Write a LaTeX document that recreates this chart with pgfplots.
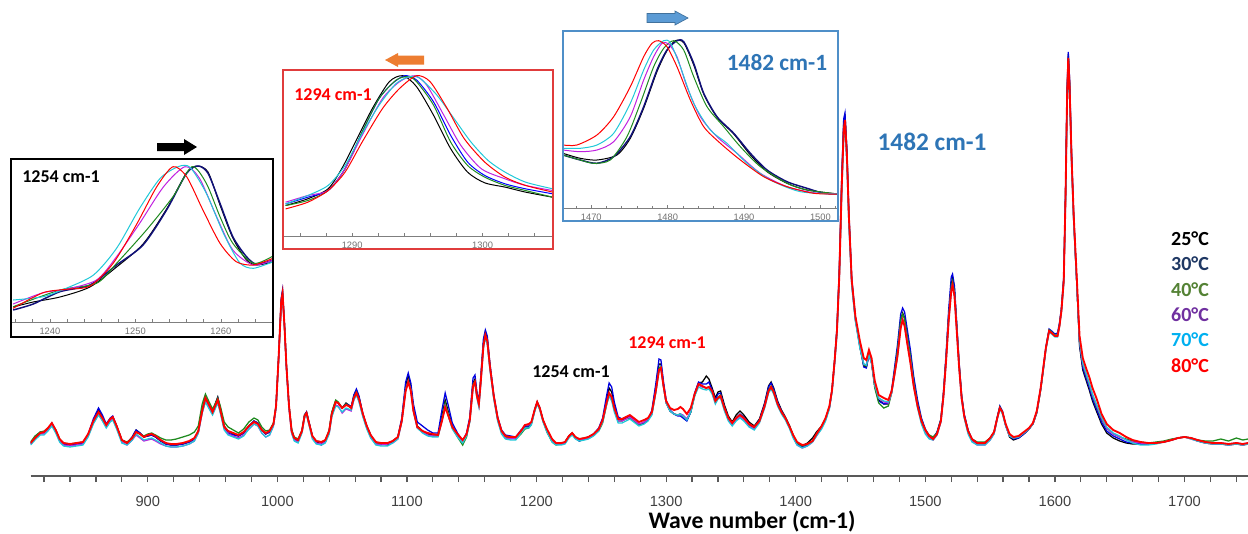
\documentclass[border=0pt]{standalone}
\usepackage{fontspec}
\setmainfont{Carlito}
\newfontfamily\arial{Liberation Sans}
\usepackage{pgfplots}
\usepackage{pgfplotstable}
\pgfplotsset{compat=1.18}

\definecolor{axgray}{HTML}{7F7F7F}
\definecolor{tickgray}{HTML}{404040}
\definecolor{cA}{HTML}{000000}
\definecolor{cB}{HTML}{0000E0}
\definecolor{cBn}{HTML}{10107A}
\definecolor{cC}{HTML}{1E8A1E}
\definecolor{cD}{HTML}{C020E0}
\definecolor{cE}{HTML}{20C8D8}
\definecolor{cF}{HTML}{FF0000}
\definecolor{lg30}{HTML}{1F3864}
\definecolor{lg40}{HTML}{548235}
\definecolor{lg60}{HTML}{7030A0}
\definecolor{lg70}{HTML}{00B0F0}
\definecolor{lblue}{HTML}{2E75B6}
\definecolor{boxred}{HTML}{E03C3C}
\definecolor{boxblue}{HTML}{4F8FC8}
\definecolor{arrorange}{HTML}{ED7D31}
\definecolor{arrblue}{HTML}{5B9BD5}
\definecolor{arrblueline}{HTML}{41719C}

\pgfplotstableread{
wn t25 t30 t40 t60 t70 t80
809.6 33 32 34 32 31 33
813 39 38 40 37 36 38
817 44 43 44 42 41 43
820 44 43 45 42 41 44
823 47 47 48 46 45 48
826 52 53 51 51 50 53
829 45 46 46 44 43 46
832 36 36 37 35 34 37
835 32 32 33 31 30 33
840 31 31 32 30 29 32
845 32 32 33 31 30 33
850 33 33 34 32 31 34
854 41 42 41 40 39 42
858 55 57 54 53 52 55
862 66 68 63 62 61 64
865 59 61 57 56 55 58
868 51 52 50 49 48 51
871 57 58 56 55 54 57
873 59 60 58 57 56 59
876 50 50 50 48 47 50
880 36 36 36 34 33 36
884 33 33 34 31 31 33
888 39 39 38 36 36 38
891 46 46 44 41 42 44
894 43 43 42 38 39 42
897 39 39 40 35 36 39
900 40 40 42 36 37 41
903 41 41 43 37 38 42
906 39 39 41 35 36 40
910 35 35 38 32 33 36
914 32 32 36 30 30 33
918 31 31 36 29 29 32
922 31 31 37 29 29 32
927 32 32 39 30 30 33
932 34 34 41 32 32 35
936 37 37 44 35 35 38
939 45 44 50 43 43 45
942 66 67 72 63 63 65
944.5 79 78 82 75 74 78
947 72 72 75 69 68 72
950 64 64 67 62 61 64
952 72 71 72 68 67 70
954 79 78 78 74 73 76
956 68 67 70 64 63 66
959 50 48 54 47 46 49
962 45 43 49 42 41 45
966 42 41 46 40 39 43
970 40 40 43 38 37 41
974 43 43 47 41 40 44
978 50 50 54 47 47 50
982 55 55 58 52 52 54
985 53 53 56 50 50 52
988 46 46 49 43 43 46
991 42 42 45 39 39 43
994 44 44 46 41 41 45
997 52 52 53 50 50 52
999 70 70 70 68 68 70
1001 119 120 118 117 117 119
1003 176 178 174 172 171 175
1004 184 186 182 180 179 183
1005.5 151 152 150 148 148 150
1007 110 110 109 108 108 110
1009 70 70 70 68 68 70
1011 46 45 47 43 43 45
1013 38 37 39 36 35 38
1016 36 35 37 34 33 36
1019 45 45 46 44 43 45
1021 61 61 61 59 58 60
1022.5 64 64 63 62 61 63
1024 56 56 55 54 53 55
1027 40 40 40 38 37 40
1030 34 33 35 33 32 35
1034 32 31 34 32 31 34
1037 35 34 36 34 33 36
1040 45 45 46 43 42 45
1042 63 62 64 60 59 62
1045 75 74 76 71 70 74
1047 73 73 74 70 69 73
1050 68 68 68 63 64 68
1053 73 72 72 67 68 71
1055 71 71 70 66 67 70
1057 69 69 68 65 66 68
1059 80 81 79 76 76 78
1061 86 87 84 82 81 83
1063 79 80 77 75 74 77
1066 62 62 61 60 59 62
1069 50 50 49 48 47 50
1072 41 41 40 39 38 41
1076 33 33 33 32 31 34
1080 32 32 32 31 30 33
1085 31 32 32 32 30 33
1089 34 35 35 33 33 35
1093 39 39 39 37 37 39
1096 56 58 55 54 54 55
1099 90 94 87 86 86 85
1101 100 103 96 95 94 94
1103 90 93 87 86 86 85
1105 68 72 66 65 65 65
1108 50 54 49 48 48 49
1112 45 50 44 44 43 45
1116 42 46 41 41 40 43
1120 41 43 40 40 39 42
1124 41 43 40 40 39 41
1127 60 66 57 55 55 55
1129.5 76 83 73 70 70 69
1132 64 70 62 60 60 60
1135 50 53 48 48 47 49
1139 41 43 39 40 39 42
1143 34 35 31 34 33 36
1146 41 43 39 41 40 42
1148.5 57 59 55 55 54 56
1151 93 98 92 90 89 90
1152.5 97 101 95 93 92 94
1154 82 84 80 79 78 80
1155.5 73 74 72 70 69 72
1157 97 100 96 93 93 95
1159 133 137 131 129 128 130
1160.5 144 146 141 139 138 141
1162 137 140 134 133 132 135
1164 111 113 109 108 107 110
1167 80 81 79 78 77 80
1170 58 59 57 56 55 58
1173 45 46 44 43 42 45
1176 40 41 39 38 37 40
1180 39 40 38 37 36 39
1184 38 39 37 38 36 39
1188 44 46 42 45 43 45
1191 50 49 47 51 48 51
1194 50 49 48 51 48 52
1196 53 53 52 53 51 54
1198.5 66 66 65 65 64 66
1200.5 74 74 73 73 72 74
1202.5 68 68 67 67 66 68
1205 56 56 55 55 54 56
1208 46 46 44 45 44 47
1212 36 36 34 35 34 37
1215 32 32 31 32 31 33
1219 32 32 32 32 31 33
1222 34 34 34 33 32 34
1225 40 40 40 39 38 40
1227.5 43 43 43 42 41 43
1230 38 38 39 38 37 39
1233 35 35 37 36 35 37
1237 37 37 38 37 36 38
1240 39 39 39 38 37 39
1244 42 42 41 41 40 42
1248 47 48 45 46 45 47
1251 56 58 53 55 54 56
1254 75 80 71 72 71 73
1256 88 93 81 82 80 83
1258 84 89 78 77 75 79
1260 70 74 67 66 64 68
1263 57 59 55 55 53 57
1266 56 57 55 55 53 57
1269 58 59 57 57 55 59
1272 59 60 58 59 57 61
1275 56 56 55 56 54 58
1279 51 51 51 52 50 54
1283 53 53 54 54 52 56
1286 56 56 57 57 55 58
1289 64 66 62 62 61 64
1292 88 92 84 84 83 85
1294.5 112 117 108 106 105 106
1296 112 116 109 108 107 108
1298 91 94 89 89 89 90
1300 74 76 73 73 73 75
1303 65 66 65 65 65 68
1306 62 62 62 62 62 66
1309 61 60 61 61 61 67
1311 62 60 62 62 62 69
1313 60 58 60 61 60 67
1316 56 55 57 57 56 62
1319 64 64 64 65 64 68
1322 82 83 80 81 80 82
1325 93 94 91 91 89 92
1328 94 92 89 89 87 90
1331 100 92 88 88 86 88
1333 97 94 89 89 87 89
1335.5 88 86 84 83 82 85
1338 78 76 74 73 72 75
1340 84 82 79 78 77 78
1342 85 83 81 79 78 80
1345 71 69 68 66 65 68
1348 60 58 57 56 55 58
1351 54 52 52 51 50 53
1354 61 58 58 56 55 58
1357 65 62 61 59 58 61
1360 61 59 58 56 55 58
1364 54 52 51 50 49 52
1368 50 49 48 47 46 49
1372 57 56 55 54 53 55
1376 73 72 70 69 68 70
1379 90 89 86 84 83 85
1381 94 93 90 88 87 89
1383 88 87 85 83 82 84
1386 75 74 72 71 70 72
1389 66 65 64 63 62 64
1392 59 58 58 57 56 58
1395 51 50 50 49 48 50
1398 41 40 41 39 38 41
1401 33 32 33 31 31 34
1405 30 29 30 28 28 31
1409 33 31 32 30 30 32
1413 38 35 35 34 34 35
1416 44 42 42 40 40 42
1420 50 49 49 48 47 50
1423 57 57 57 56 55 58
1426 69 69 69 68 67 70
1428 86 86 86 85 84 86
1430 115 116 115 113 112 115
1431.8 146 148 145 143 141 145
1433.6 203 206 200 198 196 200
1435.5 295 299 290 287 283 290
1437 353 357 346 342 338 345
1438 362 363 356 352 346 356
1439.5 324 326 319 315 310 320
1441 262 264 258 255 251 260
1443.2 196 198 194 192 190 196
1446 158 159 157 156 155 160
1449.5 130 130 129 129 128 135
1452.5 110 109 111 112 112 118
1454.5 109 108 110 111 111 116
1456.5 122 121 122 121 121 126
1458.5 114 114 113 113 113 118
1461 90 90 88 91 91 95
1464 76 75 73 78 78 81
1468 72 72 68 74 75 78
1471.5 72 73 70 73 74 76
1474 84 86 83 83 83 85
1476 102 106 102 99 99 100
1478.5 125 131 126 120 119 120
1481 156 162 156 150 149 148
1482.5 163 168 162 157 156 156
1484 158 164 157 151 150 150
1486 141 147 140 135 134 133
1488.5 121 126 120 115 114 113
1491 96 100 95 91 90 90
1494 73 76 72 69 68 70
1497 56 58 56 53 52 55
1500 46 47 46 43 42 46
1503 40 40 41 38 37 40
1506 38 38 39 36 36 37
1509 43 44 43 41 41 42
1512 56 57 56 54 54 55
1514 82 84 81 79 79 80
1516 118 122 117 114 114 115
1518 160 166 159 156 155 155
1520 192 199 190 186 185 185
1521 198 202 195 192 190 191
1522.5 186 190 184 181 180 180
1524 155 158 154 151 150 150
1526 113 115 112 110 109 110
1528 80 81 79 77 77 78
1530 61 62 60 59 58 60
1533 45 46 45 43 42 45
1536 36 37 37 35 34 37
1540 32 33 34 31 31 33
1546 32 33 34 31 31 33
1550 37 38 38 36 36 38
1553 43 44 44 42 42 44
1555.5 58 59 58 57 57 58
1557.5 69 70 69 68 67 68
1559.5 64 65 64 63 62 64
1562 51 51 51 50 50 52
1565 39 40 40 40 40 42
1568 36 37 38 38 38 39
1572 38 38 39 39 39 40
1576 42 42 43 43 43 44
1580 47 47 47 47 47 48
1583 52 52 52 52 52 53
1586 63 64 64 64 64 65
1589 86 88 87 87 87 88
1591 106 108 107 107 106 108
1593 127 129 128 127 126 128
1595.5 145 147 146 145 144 145
1597.5 143 145 144 143 142 143
1600 140 142 141 140 139 140
1602 141 143 141 140 139 140
1603.5 151 153 151 150 149 150
1605 166 168 166 165 164 165
1606.8 197 199 196 194 192 195
1608.2 283 285 280 276 272 280
1609.4 385 388 380 374 368 380
1610.3 422 424 418 412 405 418
1611.3 395 398 390 385 380 390
1612.8 322 325 318 315 312 320
1614.5 258 260 256 255 253 260
1616.8 195 196 195 195 194 200
1619 130 132 134 135 135 140
1621.5 106 108 111 112 113 118
1624 96 98 101 102 103 108
1626.5 86 88 91 92 93 99
1629 75 77 80 81 82 88
1632 65 67 70 71 72 78
1636 52 54 57 58 59 62
1640 43 45 48 48 49 52
1645 38 40 42 42 43 46
1650 35 37 39 39 40 43
1655 33 34 37 36 36 39
1660 32 33 35 34 33 36
1666 32 32 34 33 31 34
1672 32 32 33 32 31 33
1678 33 33 34 33 32 33
1684 34 34 35 34 34 34
1690 36 36 37 36 36 36
1695 38 38 38 38 38 38
1700 39 39 39 39 39 39
1705 38 38 38 37 37 38
1710 35 36 36 35 35 36
1716 33 34 35 33 33 34
1722 32 33 35 32 32 33
1728 32 33 37 32 32 33
1734 31 32 35 31 31 32
1740 32 33 38 32 32 33
1745 31 32 36 31 31 32
1749 32 33 37 32 32 33
}\spec

\pgfplotsset{
  insetax/.style={
    anchor=south west, scale only axis, ymin=0,
    axis x line*=bottom, axis y line=none, ytick=\empty,
    tick align=inside, major tick length=2.5pt, minor tick length=2pt,
    x axis line style={draw=axgray, line width=0.6pt},
    every tick/.style={draw=axgray, line width=0.5pt},
    xticklabel style={font=\arial\fontsize{7}{8}\selectfont, text=axgray!90!black, yshift=-1pt},
    /pgf/number format/assume math mode=true, /pgf/number format/1000 sep={},
    clip=true, no marks,
    every axis plot/.append style={smooth, tension=0.45, line width=0.75pt},
  }
}

\begin{document}
\begin{tikzpicture}
\path[use as bounding box] (0pt,0pt) rectangle (936pt,-399.75pt);

% main spectrum
\begin{axis}[
  at={(22.95pt,-357pt)}, anchor=south west, scale only axis,
  width=913.05pt, height=357pt,
  xmin=809.6, xmax=1749, ymin=0, ymax=476,
  axis x line*=bottom, axis y line=none, ytick=\empty,
  xtick={900,1000,...,1700},
  minor xtick={820,840,...,1740},
  tick align=outside, major tick length=4.5pt, minor tick length=4.5pt,
  x axis line style={draw=axgray!70!black, line width=1.1pt},
  every tick/.style={draw=axgray!70!black, line width=0.9pt},
  xticklabel style={font=\arial\fontsize{11}{13}\selectfont, text=tickgray},
  xticklabel shift=7pt,
  /pgf/number format/assume math mode=true, /pgf/number format/1000 sep={},
  no marks, clip=true,
]
\addplot[cA, line width=0.95pt] table[x=wn,y=t25]{\spec};
\addplot[cB, line width=0.95pt] table[x=wn,y=t30]{\spec};
\addplot[cC, line width=0.95pt] table[x=wn,y=t40]{\spec};
\addplot[cD, line width=0.95pt] table[x=wn,y=t60]{\spec};
\addplot[cE, line width=0.95pt] table[x=wn,y=t70]{\spec};
\addplot[cF, line width=1.4pt] table[x=wn,y=t80]{\spec};
\end{axis}

% inset 1 : 1254
\begin{axis}[insetax, at={(8.25pt,-241.5pt)}, width=196.5pt, height=122.25pt,
  xmin=1235.45, xmax=1266.1, ymax=163,
  xtick={1240,1250,1260}, minor xtick={1236,1238,...,1266}]
\addplot[cA] coordinates {(1235.7,15) (1238.05,20) (1241.17,25) (1244.68,35) (1247.8,55) (1250.9,78) (1253.65,113) (1255.99,149) (1257.2,156) (1258.5,150) (1259.9,117) (1261.4,84) (1263,62) (1264.2,57) (1266.1,60)};
\addplot[cBn, line width=1.1pt] coordinates {(1235.7,12) (1238.05,18) (1241.17,30.3) (1244.68,37) (1247.8,57) (1250.9,77) (1253.65,112) (1255.99,148.7) (1257.35,156) (1258.5,148.7) (1259.9,118.7) (1261.4,85.3) (1263,65.3) (1264.2,57.7) (1266.1,62)};
\addplot[cC] coordinates {(1235.7,15.3) (1241.17,32) (1245.46,38.7) (1247.8,58.7) (1251.3,92) (1254.4,125.3) (1256.6,155.3) (1258.3,138.7) (1259.9,105.3) (1261.4,78.7) (1263.8,58.7) (1266.1,66)};
\addplot[cD] coordinates {(1235.7,18) (1239.2,29.3) (1241.9,32.7) (1245.46,42) (1247.8,65.3) (1250.5,98.7) (1253.3,135.3) (1255.8,155.3) (1257.5,143.7) (1259.5,105.3) (1261.4,72) (1263.8,57) (1266.1,62)};
\addplot[cE] coordinates {(1235.7,22) (1239.2,25.3) (1241.9,33.7) (1245.1,47) (1247.8,73.7) (1250.5,113.7) (1252.9,143.7) (1255,155.3) (1256.4,154.7) (1258.3,128.7) (1260.3,88.7) (1262.2,59.3) (1263.8,53.7) (1266.1,60.3)};
\addplot[cF] coordinates {(1235.7,13.7) (1239.2,29.3) (1241.9,32.7) (1244.7,36) (1247.4,58.7) (1250.1,97) (1252.5,135.3) (1254.4,155.3) (1256,145.3) (1257.9,112) (1259.9,78.7) (1261.8,60.3) (1263.8,57) (1266.1,63.7)};
\end{axis}

% inset 2 : 1294
\begin{axis}[insetax, at={(212.25pt,-177pt)}, width=202.5pt, height=124.5pt,
  xmin=1284.7, xmax=1305.4, ymax=166,
  xtick={1290,1300}, minor xtick={1286,1288,...,1304}]
\addplot[cA] coordinates {(1284.9,30.5) (1286.6,37.2) (1288.16,47.2) (1289.2,67.3) (1290.25,94) (1291.55,127.5) (1292.85,154.3) (1293.9,160.3) (1294.94,149.3) (1296.24,120.8) (1297.55,87.4) (1298.85,63.9) (1300.16,53.2) (1301.72,48.9) (1303.29,43.9) (1305.37,38.8)};
\addplot[blue] coordinates {(1284.9,32.1) (1286.6,38.8) (1288.16,45.5) (1289.46,67.3) (1290.77,104.1) (1292.07,137.5) (1293.1,152.6) (1294.03,160.3) (1294.94,156) (1296.24,134.2) (1297.55,100.7) (1298.85,74) (1300.16,60.6) (1301.72,52.2) (1303.29,47.2) (1305.37,42.2)};
\addplot[cC] coordinates {(1284.9,30.5) (1286.6,35.5) (1288.16,45.5) (1289.46,67.3) (1290.77,104.1) (1292.07,137.5) (1293.38,156) (1294.3,159.3) (1294.94,154.3) (1296.24,130.9) (1297.55,94) (1298.85,70.6) (1300.16,58.9) (1301.72,50.6) (1303.29,45.5) (1305.37,38.8)};
\addplot[cD] coordinates {(1284.9,33.8) (1286.6,40.5) (1288.16,45.5) (1289.46,67.3) (1290.77,100.7) (1292.33,137.5) (1293.64,154.3) (1294.81,160.3) (1295.72,150.9) (1297.03,120.8) (1298.33,90.7) (1299.9,67.3) (1301.72,57.2) (1303.29,50.6) (1305.37,45.5)};
\addplot[cE] coordinates {(1284.9,32.1) (1286.6,40.5) (1288.16,50.6) (1289.46,70.6) (1290.77,102.4) (1292.07,130.9) (1293.38,152.6) (1294.42,159.3) (1295.2,157.6) (1296.5,140.9) (1297.81,117.5) (1299.11,94) (1300.42,75.6) (1301.72,63.9) (1303.29,53.9) (1305.37,47.2)};
\addplot[cF] coordinates {(1284.9,27.1) (1286.6,33.8) (1288.16,45.5) (1289.46,63.9) (1290.77,94) (1292.33,127.5) (1293.64,147.6) (1294.94,160.3) (1295.98,154.3) (1297.29,127.5) (1298.59,97.4) (1300.16,74) (1301.72,58.9) (1303.29,50.6) (1305.37,43.9)};
\end{axis}

% inset 3 : 1482
\begin{axis}[insetax, at={(422.25pt,-156.225pt)}, width=206.25pt, height=132.975pt,
  xmin=1466.3, xmax=1502.3, ymax=177.3,
  xtick={1470,1480,1490,1500}, minor xtick={1468,1470,...,1502}]
\addplot[cA] coordinates {(1466.29,55) (1468.56,50) (1470.74,48.3) (1473.36,53.3) (1475.11,70) (1476.86,100) (1478.6,136.6) (1479.91,157.6) (1481,167.6) (1482.1,165.6) (1483.41,143.3) (1484.72,114.3) (1486.46,91) (1488.65,74.3) (1490.83,53.3) (1493.01,36.6) (1495.63,25) (1498.25,18.3) (1502.31,14.3)};
\addplot[cBn, line width=1.1pt] coordinates {(1466.29,53.3) (1468.56,48.3) (1470.74,45) (1472.93,51.6) (1475.11,71.6) (1476.86,101.6) (1478.6,138.3) (1479.91,158.3) (1481.22,167.6) (1482.1,166.6) (1483.41,145) (1484.72,115) (1486.46,91.6) (1488.65,75) (1490.83,55) (1493.01,38.3) (1495.63,26.6) (1498.25,20) (1500.44,15) (1502.31,14.3)};
\addplot[cC] coordinates {(1466.29,53.3) (1468.56,48.3) (1470.31,45) (1472.49,48.3) (1474.67,71.6) (1476.42,105) (1478.17,141.6) (1479.48,160) (1480.79,167.6) (1482.1,158.3) (1483.41,131.6) (1485.15,101.6) (1487.34,81.6) (1489.52,61.6) (1492.14,41.6) (1495.63,25) (1498.25,18.3) (1502.31,14.3)};
\addplot[cD] coordinates {(1466.29,58.3) (1468.56,56.6) (1470.74,58.3) (1472.93,66.6) (1475.11,91.6) (1476.86,128.3) (1478.17,151.6) (1479.26,165) (1480.13,164.3) (1481.22,151.6) (1482.53,121.6) (1484.28,91.6) (1486.46,71.6) (1489.08,55) (1492.14,35) (1495.63,21.6) (1499.13,15.6) (1502.31,14.3)};
\addplot[cE] coordinates {(1466.29,60) (1468.56,60) (1470.74,63.3) (1472.93,75) (1475.11,105) (1476.86,138.3) (1478.17,158.3) (1479.48,167.6) (1480.35,165.6) (1481.66,141.6) (1483.41,105) (1485.59,78.3) (1487.77,65) (1490.39,45) (1493.45,28.3) (1497.38,16.6) (1502.31,14.3)};
\addplot[cF] coordinates {(1466.29,63.3) (1468.12,63.3) (1470.74,73.3) (1472.93,91.6) (1475.11,121.6) (1476.86,151.6) (1477.95,165) (1478.82,167.6) (1479.91,161.6) (1481.22,141.6) (1482.97,108.3) (1484.72,81.6) (1486.9,65) (1489.52,48.3) (1492.58,31.6) (1495.63,21.6) (1499.13,15) (1502.31,14.3)};
\end{axis}

\begin{scope}[x=0.75pt, y=-0.75pt]
% inset frames
\draw[black, line width=1.2pt] (11,159) rectangle (273,337);
\draw[boxred, line width=1pt] (283,70) rectangle (553,249);
\draw[boxblue, line width=1pt] (563,31) rectangle (838,221);
% arrows
\fill[black] (157,143) -- (184,143) -- (184,139) -- (197,147) -- (184,155) -- (184,151) -- (157,151) -- cycle;
\fill[arrorange] (424,55.5) -- (398,55.5) -- (398,53) -- (385,60) -- (398,67) -- (398,64.5) -- (424,64.5) -- cycle;
\filldraw[fill=arrblue, draw=arrblueline, line width=0.5pt] (647,13.5) -- (675,13.5) -- (675,11) -- (688,18) -- (675,25) -- (675,22.5) -- (647,22.5) -- cycle;
% inset labels
\node[font=\bfseries\fontsize{13.5}{16}\selectfont, text=black] at (61,177) {1254 cm-1};
\node[font=\bfseries\fontsize{13.5}{16}\selectfont, text=cF] at (333,95) {1294 cm-1};
\node[font=\bfseries\fontsize{17.5}{20}\selectfont, text=lblue] at (777,63) {1482 cm-1};
% main labels
\node[font=\bfseries\fontsize{13.5}{16}\selectfont, text=black] at (571,372) {1254 cm-1};
\node[font=\bfseries\fontsize{13.5}{16}\selectfont, text=cF] at (667,343) {1294 cm-1};
\node[font=\bfseries\fontsize{19}{22}\selectfont, text=lblue] at (932,142) {1482 cm-1};
% legend
\node[font=\bfseries\fontsize{15}{18}\selectfont, text=black] at (1190,239) {25°C};
\node[font=\bfseries\fontsize{15}{18}\selectfont, text=lg30] at (1190,264) {30°C};
\node[font=\bfseries\fontsize{15}{18}\selectfont, text=lg40] at (1190,290) {40°C};
\node[font=\bfseries\fontsize{15}{18}\selectfont, text=lg60] at (1190,315) {60°C};
\node[font=\bfseries\fontsize{15}{18}\selectfont, text=lg70] at (1190,340) {70°C};
\node[font=\bfseries\fontsize{15}{18}\selectfont, text=cF] at (1190,366) {80°C};
% x label
\node[font=\bfseries\fontsize{17.8}{21}\selectfont, text=black] at (752,521) {Wave number (cm-1)};
\end{scope}
\end{tikzpicture}
\end{document}
